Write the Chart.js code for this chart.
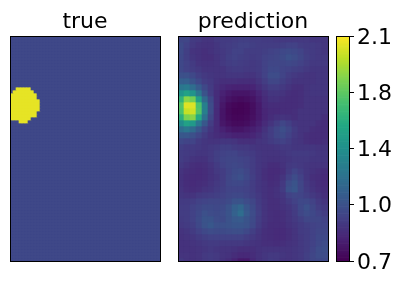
<!DOCTYPE html>
<html>
<head>
<meta charset="utf-8">
<script src="https://cdn.jsdelivr.net/npm/chart.js@4"></script>
<style>
    html, body { margin: 0; padding: 0; background: #fff; overflow: hidden; }
    canvas { position: absolute; top: 0; }
</style>
</head>
<body>
<canvas id="painelTrue" style="left:0" width="170" height="286"></canvas>
<canvas id="painelPred" style="left:168px" width="170" height="286"></canvas>
<canvas id="painelBarra" style="left:330px" width="72" height="286"></canvas>
<script>
// faixa de valores e ticks da barra de cores
const valorMin = 0.7;
const valorMax = 2.1;
const tickValores = [0.7, 1.05, 1.4, 1.75, 2.1];
const tickTextos = ['0.7', '1.0', '1.4', '1.8', '2.1'];

// painel "true": fundo constante + mancha amarela (linhas e colunas da grade de 50x75)
const trueColunas = 50;
const trueLinhas = 75;
const trueFundo = 1.0;
const trueMancha = 2.05;
const manchaLinhas = [17, 18, 19, 20, 21, 22, 23, 24, 25, 26, 27, 28];
const manchaDe =     [ 2,  1,  0,  0,  0,  0,  0,  0,  0,  0,  0,  3];
const manchaAte =    [ 6,  7,  8,  8,  9,  9,  9,  9,  8,  8,  6,  5];

// painel "prediction": valores, linha a linha
const predicao = [
    [.99,.99,.94,.93,.91,.91,.93,.94,.94,.95,.96,.96,.95,.95,.94,.94,.93,.93,.93,.93,.93,.93,.92,.92,.92],
    [1.01,.97,.93,.91,.90,.90,.92,.94,.95,.96,.97,.97,.96,.95,.95,.95,.95,.96,.97,.97,.95,.94,.94,.93,.92],
    [1.01,.96,.91,.90,.89,.90,.92,.93,.95,.97,.97,.95,.95,.95,.96,.97,.98,1.00,1.01,1.00,.98,.95,.94,.93,.92],
    [1.00,.96,.92,.90,.89,.89,.91,.93,.96,.97,.96,.95,.94,.95,.97,.98,.99,1.01,1.04,1.02,.99,.96,.94,.93,.93],
    [1.00,.97,.94,.91,.90,.90,.91,.93,.95,.96,.95,.94,.93,.94,.97,.99,.99,.99,1.00,.99,.97,.95,.93,.93,.93],
    [1.00,.97,.95,.93,.91,.91,.91,.91,.93,.94,.94,.93,.93,.94,.97,1.00,1.00,.98,.97,.96,.95,.93,.92,.92,.92],
    [1.04,1.04,1.00,.96,.93,.92,.91,.91,.92,.92,.92,.91,.91,.93,.97,1.02,1.02,.98,.95,.93,.92,.91,.91,.92,.92],
    [1.12,1.12,1.06,1.00,.95,.93,.90,.89,.89,.89,.88,.88,.88,.91,.95,.99,.99,.96,.93,.91,.91,.91,.91,.92,.92],
    [1.25,1.27,1.20,1.10,1.00,.94,.89,.86,.84,.83,.83,.83,.84,.88,.92,.95,.95,.93,.91,.89,.89,.91,.92,.92,.92],
    [1.42,1.50,1.42,1.25,1.06,.95,.88,.83,.80,.78,.78,.78,.80,.84,.89,.92,.92,.91,.89,.88,.89,.91,.92,.92,.92],
    [1.60,1.85,1.80,1.48,1.18,1.00,.88,.81,.77,.75,.74,.75,.77,.82,.87,.90,.90,.89,.88,.88,.89,.91,.91,.91,.91],
    [1.72,2.03,2.03,1.70,1.30,1.02,.88,.79,.74,.72,.71,.72,.75,.80,.86,.88,.88,.88,.88,.88,.89,.91,.91,.91,.91],
    [1.70,1.98,2.00,1.72,1.30,1.02,.87,.78,.73,.71,.71,.72,.75,.80,.85,.87,.87,.88,.88,.89,.91,.91,.91,.91,.91],
    [1.58,1.82,1.85,1.55,1.22,.99,.87,.78,.74,.72,.72,.73,.76,.80,.85,.88,.90,.91,.90,.89,.91,.91,.91,.91,.89],
    [1.38,1.50,1.45,1.25,1.08,.95,.87,.79,.76,.74,.74,.75,.78,.82,.87,.91,.95,.99,.96,.92,.91,.91,.91,.89,.88],
    [1.20,1.25,1.18,1.08,.98,.92,.87,.83,.80,.78,.78,.80,.82,.85,.90,.95,.99,1.03,.99,.94,.91,.91,.89,.88,.88],
    [1.08,1.08,1.04,.99,.94,.90,.88,.86,.85,.83,.83,.83,.85,.88,.92,.95,.99,1.01,.97,.93,.91,.89,.88,.88,.88],
    [1.00,.98,.98,.94,.92,.91,.91,.92,.92,.91,.89,.89,.89,.91,.92,.94,.96,.97,.95,.92,.91,.89,.88,.88,.89],
    [.96,.94,.94,.93,.92,.93,.94,.96,.96,.94,.93,.93,.92,.91,.91,.91,.92,.93,.93,.92,.92,.92,.92,.91,.91],
    [.95,.94,.93,.92,.92,.93,.96,.97,.98,.98,.96,.95,.94,.92,.91,.91,.91,.92,.93,.94,.94,.94,.93,.92,.92],
    [.95,.93,.91,.90,.90,.93,.96,.98,.99,.99,.98,.97,.95,.92,.91,.90,.90,.91,.92,.93,.93,.93,.92,.92,.92],
    [.93,.91,.89,.88,.89,.91,.94,.97,.99,1.00,.99,.97,.95,.92,.90,.88,.88,.90,.93,.94,.93,.92,.91,.91,.91],
    [.91,.89,.88,.87,.88,.90,.93,.95,.98,1.01,1.02,.99,.95,.92,.89,.87,.87,.89,.94,.98,.95,.92,.90,.89,.88],
    [.90,.88,.87,.87,.88,.90,.92,.95,.99,1.02,1.04,1.00,.96,.92,.89,.87,.88,.91,.97,1.02,.97,.92,.89,.88,.87],
    [.90,.88,.87,.88,.89,.91,.93,.95,.99,1.00,1.00,.98,.95,.92,.90,.88,.89,.93,1.02,1.06,.99,.93,.90,.88,.87],
    [.91,.89,.88,.89,.91,.92,.94,.96,.98,.98,.98,.97,.95,.92,.90,.89,.90,.94,1.04,1.07,.99,.94,.91,.89,.88],
    [.92,.91,.91,.93,.94,.95,.96,.97,.99,1.00,1.00,.98,.96,.93,.90,.89,.90,.92,.97,.99,.98,.96,.93,.91,.89],
    [.94,.94,.95,.97,.98,.99,.99,.99,1.01,1.05,1.06,1.02,.99,.94,.91,.89,.89,.91,.94,.97,1.00,1.00,.97,.93,.91],
    [.95,.95,.97,.99,1.01,1.01,1.00,1.01,1.05,1.12,1.16,1.07,1.01,.95,.91,.89,.89,.90,.92,.95,1.00,1.04,.99,.95,.93],
    [.95,.95,.97,1.00,1.04,1.02,1.01,1.02,1.06,1.13,1.20,1.09,1.02,.96,.91,.89,.88,.89,.91,.94,.99,1.02,1.00,.97,.95],
    [.94,.95,.97,1.01,1.06,1.06,1.02,1.01,1.05,1.09,1.10,1.06,1.01,.95,.91,.89,.88,.89,.91,.93,.96,.99,.99,.99,.97],
    [.93,.94,.96,1.00,1.05,1.08,1.04,1.04,1.05,1.07,1.07,1.05,1.00,.94,.90,.88,.88,.88,.90,.92,.94,.96,.97,.98,.98],
    [.91,.92,.94,.97,1.00,1.02,1.01,1.01,1.02,1.03,1.03,1.00,.96,.92,.89,.88,.87,.87,.89,.91,.94,.95,.97,.99,.99],
    [.90,.91,.92,.94,.96,.97,.97,.97,.97,.97,.97,.95,.93,.91,.89,.88,.87,.87,.89,.91,.93,.95,.97,1.00,1.00],
    [.90,.90,.91,.92,.93,.94,.94,.93,.93,.93,.93,.92,.91,.90,.89,.89,.88,.89,.90,.91,.93,.95,.97,1.00,1.02],
    [.90,.90,.90,.91,.92,.93,.92,.91,.91,.90,.89,.89,.89,.90,.91,.91,.91,.91,.91,.92,.93,.95,.98,1.02,1.03],
    [.91,.91,.90,.91,.93,.94,.93,.91,.90,.88,.86,.86,.88,.90,.92,.93,.93,.92,.91,.92,.93,.96,.99,1.02,1.02],
    [.93,.91,.90,.91,.93,.94,.93,.90,.88,.84,.80,.80,.86,.90,.92,.94,.93,.91,.91,.92,.93,.96,.99,1.00,1.00],
];

// paleta viridis
const viridis = ['#440154', '#482475', '#414487', '#355f8d', '#2a788e', '#21918c', '#22a884', '#44bf70', '#7ad151', '#bddf26', '#fde725'];

function hexParaRgb(hex) {
    return [1, 3, 5].map(i => parseInt(hex.slice(i, i + 2), 16));
}

function corDoValor(valor) {
    const t = Math.min(1, Math.max(0, (valor - valorMin) / (valorMax - valorMin))) * (viridis.length - 1);
    const i = Math.min(viridis.length - 2, Math.floor(t));
    const a = hexParaRgb(viridis[i]);
    const b = hexParaRgb(viridis[i + 1]);
    const c = a.map((v, k) => Math.round(v + (b[k] - v) * (t - i)));
    return `rgb(${c[0]},${c[1]},${c[2]})`;
}

// Monta a grade do painel "true" a partir das listas da mancha
function montarGradeTrue() {
    const grade = [];
    for (let l = 0; l < trueLinhas; l++) {
        const linha = new Array(trueColunas).fill(trueFundo);
        const m = manchaLinhas.indexOf(l);
        if (m >= 0) {
            for (let c = manchaDe[m]; c <= manchaAte[m]; c++) linha[c] = trueMancha;
        }
        grade.push(linha);
    }
    return grade;
}

// Moldura preta em volta da área do gráfico
const moldura = {
    id: 'moldura',
    afterDraw(chart) {
        const { ctx, chartArea: a } = chart;
        ctx.save();
        ctx.strokeStyle = '#000';
        ctx.lineWidth = 1;
        ctx.strokeRect(a.left + 0.5, a.top + 0.5, a.right - a.left, a.bottom - a.top);
        ctx.restore();
    }
};

// Cada linha da grade vira um dataset empilhado de barras
function criarMapa(id, titulo, grade, limiteY) {
    new Chart(document.getElementById(id), {
        type: 'bar',
        data: {
            labels: grade[0].map((_, i) => i),
            datasets: grade.map(linha => ({
                data: linha.map(() => 1),
                backgroundColor: linha.map(corDoValor),
                borderWidth: 0,
                barPercentage: 1,
                categoryPercentage: 1,
            }))
        },
        options: {
            responsive: false,
            animation: false,
            layout: { padding: { left: 10, right: 10, top: 0, bottom: 25 } },
            plugins: {
                legend: { display: false },
                tooltip: { enabled: false },
                title: {
                    display: true,
                    text: titulo,
                    color: '#000',
                    font: { family: 'DejaVu Sans', size: 22, weight: 'normal', lineHeight: 1 },
                    padding: { top: 11, bottom: 3 }
                }
            },
            scales: {
                x: { display: false, stacked: true },
                y: { display: false, stacked: true, reverse: true, min: 0, max: limiteY }
            }
        },
        plugins: [moldura]
    });
}

// Barra de cores: um segmento flutuante por nível, no eixo y da própria escala
function criarBarra() {
    const niveis = 128;
    const passo = (valorMax - valorMin) / niveis;
    const segmentos = [];
    for (let i = 0; i < niveis; i++) {
        const de = valorMin + i * passo;
        segmentos.push({
            data: [[de, de + passo]],
            backgroundColor: corDoValor(de + passo / 2),
            borderWidth: 0,
            barPercentage: 1,
            categoryPercentage: 1,
        });
    }
    new Chart(document.getElementById('painelBarra'), {
        type: 'bar',
        data: { labels: ['cor'], datasets: segmentos },
        options: {
            responsive: false,
            animation: false,
            layout: { padding: { left: 6, right: 0, top: 36, bottom: 25 } },
            plugins: { legend: { display: false }, tooltip: { enabled: false } },
            scales: {
                x: { display: false, stacked: true },
                y: {
                    position: 'right',
                    min: valorMin,
                    max: valorMax,
                    afterBuildTicks: scale => { scale.ticks = tickValores.map(value => ({ value })); },
                    afterFit: scale => { scale.width = 53; },
                    border: { display: false },
                    grid: { drawOnChartArea: false, drawTicks: true, tickLength: 5, color: '#000', lineWidth: 1 },
                    ticks: {
                        autoSkip: false,
                        maxRotation: 0,
                        padding: 3,
                        labelOffset: 2,
                        color: '#000',
                        font: { family: 'DejaVu Sans', size: 22 },
                        callback: value => tickTextos[tickValores.indexOf(value)]
                    }
                }
            }
        },
        plugins: [moldura]
    });
}

criarMapa('painelTrue', 'true', montarGradeTrue(), 75);
criarMapa('painelPred', 'prediction', predicao, 37.5);
criarBarra();
</script>
</body>
</html>
